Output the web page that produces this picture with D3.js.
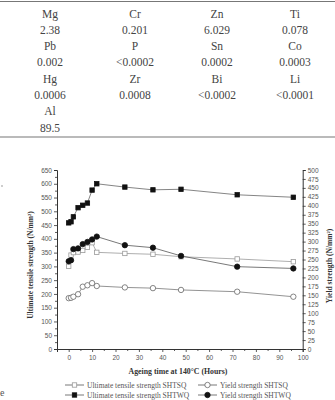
<!DOCTYPE html>
<html><head><meta charset="utf-8">
<script src="https://cdn.jsdelivr.net/npm/d3@7"></script>
<style>html,body{margin:0;padding:0;background:#fff;}svg{display:block;}</style>
</head><body>
<svg id="c" width="335" height="400"></svg>
<script>
// ---- table data ----
const tableRows = [
  ["Mg","Cr","Zn","Ti"],
  ["2.38","0.201","6.029","0.078"],
  ["Pb","P","Sn","Co"],
  ["0.002","<0.0002","0.0002","0.0003"],
  ["Hg","Zr","Bi","Li"],
  ["0.0006","0.0008","<0.0002","<0.0001"],
  ["Al"],
  ["89.5"]
];
// ---- chart data ----
const times    = [0, 1, 2, 4, 6, 8, 10, 12, 24, 36, 48, 72, 96];
const utsSHTSQ = [300, 341, 350, 352, 358, 369, 386, 351, 347, 344, 335, 327, 317];
const utsSHTWQ = [458, 462, 480, 513, 522, 530, 577, 600, 588, 578, 580, 560, 551];
const ysSHTSQ  = [142, 143, 146, 153, 174, 178, 184, 176, 172, 170, 165, 160, 146];
const ysSHTWQ  = [245, 248, 279, 281, 293, 299, 306, 314, 290, 283, 260, 230, 225];
const xTicks = [0,10,20,30,40,50,60,70,80,90,100];
const leftTicks = d3.range(0, 651, 50);
const rightTicks = d3.range(0, 501, 25);
const legendLabels = ["Ultimate tensile strength SHTSQ","Yield strength SHTSQ","Ultimate tensile strength SHTWQ","Yield strength SHTWQ"];

const svg = d3.select("#c");
const serif = "'Liberation Serif','Times New Roman',serif";
const sans = "'Liberation Sans',Arial,sans-serif";

// table
svg.append("line").attr("x1",0).attr("x2",335).attr("y1",1.5).attr("y2",1.5).attr("stroke","#777").attr("stroke-width",1.2);
svg.append("line").attr("x1",0).attr("x2",335).attr("y1",137).attr("y2",137).attr("stroke","#777").attr("stroke-width",1.2);
const colX = [50,135,217,295];
tableRows.forEach((row,i)=>{
  row.forEach((t,j)=>{
    svg.append("text").attr("x",colX[j]).attr("y",13.5+i*16.3+4)
      .attr("text-anchor","middle").attr("font-family",serif).attr("font-size",11.5)
      .attr("fill","#444").text(t);
  });
});

// scales
const x = d3.scaleLinear().domain([-5,100]).range([57,302.7]);
const yL = d3.scaleLinear().domain([0,650]).range([349,170]);
const yR = d3.scaleLinear().domain([0,500]).range([349,170]);

const axisColor = "#333";
// axes
const gx = svg.append("g").attr("transform","translate(0,349)")
  .call(d3.axisBottom(x).tickValues(xTicks).tickSize(3).tickPadding(3));
const gxm = svg.append("g").attr("transform","translate(0,349)")
  .call(d3.axisBottom(x).tickValues(d3.range(-5,100,10)).tickSize(2).tickFormat(""));
const gl = svg.append("g").attr("transform","translate(57,0)")
  .call(d3.axisLeft(yL).tickValues(leftTicks).tickSize(3).tickPadding(2));
const glm = svg.append("g").attr("transform","translate(57,0)")
  .call(d3.axisLeft(yL).tickValues(d3.range(25,650,50)).tickSize(2).tickFormat(""));
const gr = svg.append("g").attr("transform","translate(302.7,0)")
  .call(d3.axisRight(yR).tickValues(rightTicks).tickSize(3).tickPadding(2));
[gx,gxm,gl,glm,gr].forEach(g=>{
  g.select(".domain").attr("stroke",axisColor).attr("stroke-width",1);
  g.selectAll(".tick line").attr("stroke",axisColor).attr("stroke-width",0.8);
  g.selectAll(".tick text").attr("font-family",sans).attr("font-size",6.5).attr("fill","#555");
});
gxm.select(".domain").remove(); glm.select(".domain").remove();

// axis titles
svg.append("text").attr("x",178).attr("y",374).attr("text-anchor","middle")
  .attr("font-family",serif).attr("font-weight","bold").attr("font-size",7.8).attr("fill","#333")
  .text("Ageing time at 140°C (Hours)");
svg.append("text").attr("transform","translate(33,265) rotate(-90)").attr("text-anchor","middle")
  .attr("font-family",serif).attr("font-weight","bold").attr("font-size",7.5).attr("fill","#333")
  .text("Ultimate tensile strength (N/mm²)");
svg.append("text").attr("transform","translate(332,266) rotate(-90)").attr("text-anchor","middle")
  .attr("font-family",serif).attr("font-weight","bold").attr("font-size",7.5).attr("fill","#333")
  .text("Yield strength (N/mm²)");

// series
const series = [
  {vals: utsSHTSQ, y: yL, shape:"square", fill:"#fff", stroke:"#999", line:"#999"},
  {vals: ysSHTSQ, y: yR, shape:"circle", fill:"#fff", stroke:"#666", line:"#777"},
  {vals: utsSHTWQ, y: yL, shape:"square", fill:"#111", stroke:"#111", line:"#666"},
  {vals: ysSHTWQ, y: yR, shape:"circle", fill:"#111", stroke:"#111", line:"#555"}
];
function drawMarker(g, s, cx, cy){
  if(s.shape==="square"){
    g.append("rect").attr("x",cx-2.2).attr("y",cy-2.2).attr("width",4.4).attr("height",4.4)
      .attr("fill",s.fill).attr("stroke",s.stroke).attr("stroke-width",0.8);
  } else {
    g.append("circle").attr("cx",cx).attr("cy",cy).attr("r",2.7)
      .attr("fill",s.fill).attr("stroke",s.stroke).attr("stroke-width",0.8);
  }
}
series.forEach(s=>{
  const line = d3.line().x((d,i)=>x(times[i])).y(d=>s.y(d));
  svg.append("path").attr("d",line(s.vals)).attr("fill","none").attr("stroke",s.line).attr("stroke-width",0.8);
});
series.forEach(s=>{
  const g = svg.append("g");
  s.vals.forEach((v,i)=>drawMarker(g,s,x(times[i]),s.y(v)));
});

// legend
const legPos = [[65,385],[198,385],[65,395],[198,395]];
series.forEach((s,i)=>{
  const [lx,ly] = legPos[i];
  svg.append("line").attr("x1",lx).attr("x2",lx+19).attr("y1",ly).attr("y2",ly).attr("stroke","#555").attr("stroke-width",0.8);
  drawMarker(svg,s,lx+9.5,ly);
  svg.append("text").attr("x",lx+22).attr("y",ly+2.5).attr("font-family",serif).attr("font-size",7.5)
    .attr("fill","#555").text(legendLabels[i]);
});

// stray marks at left edge from neighbouring page content
svg.append("circle").attr("cx",2).attr("cy",186).attr("r",0.7).attr("fill","#777");
svg.append("text").attr("x",0).attr("y",396).attr("font-family",serif).attr("font-size",10).attr("fill","#555").text("e");
</script>
</body></html>
